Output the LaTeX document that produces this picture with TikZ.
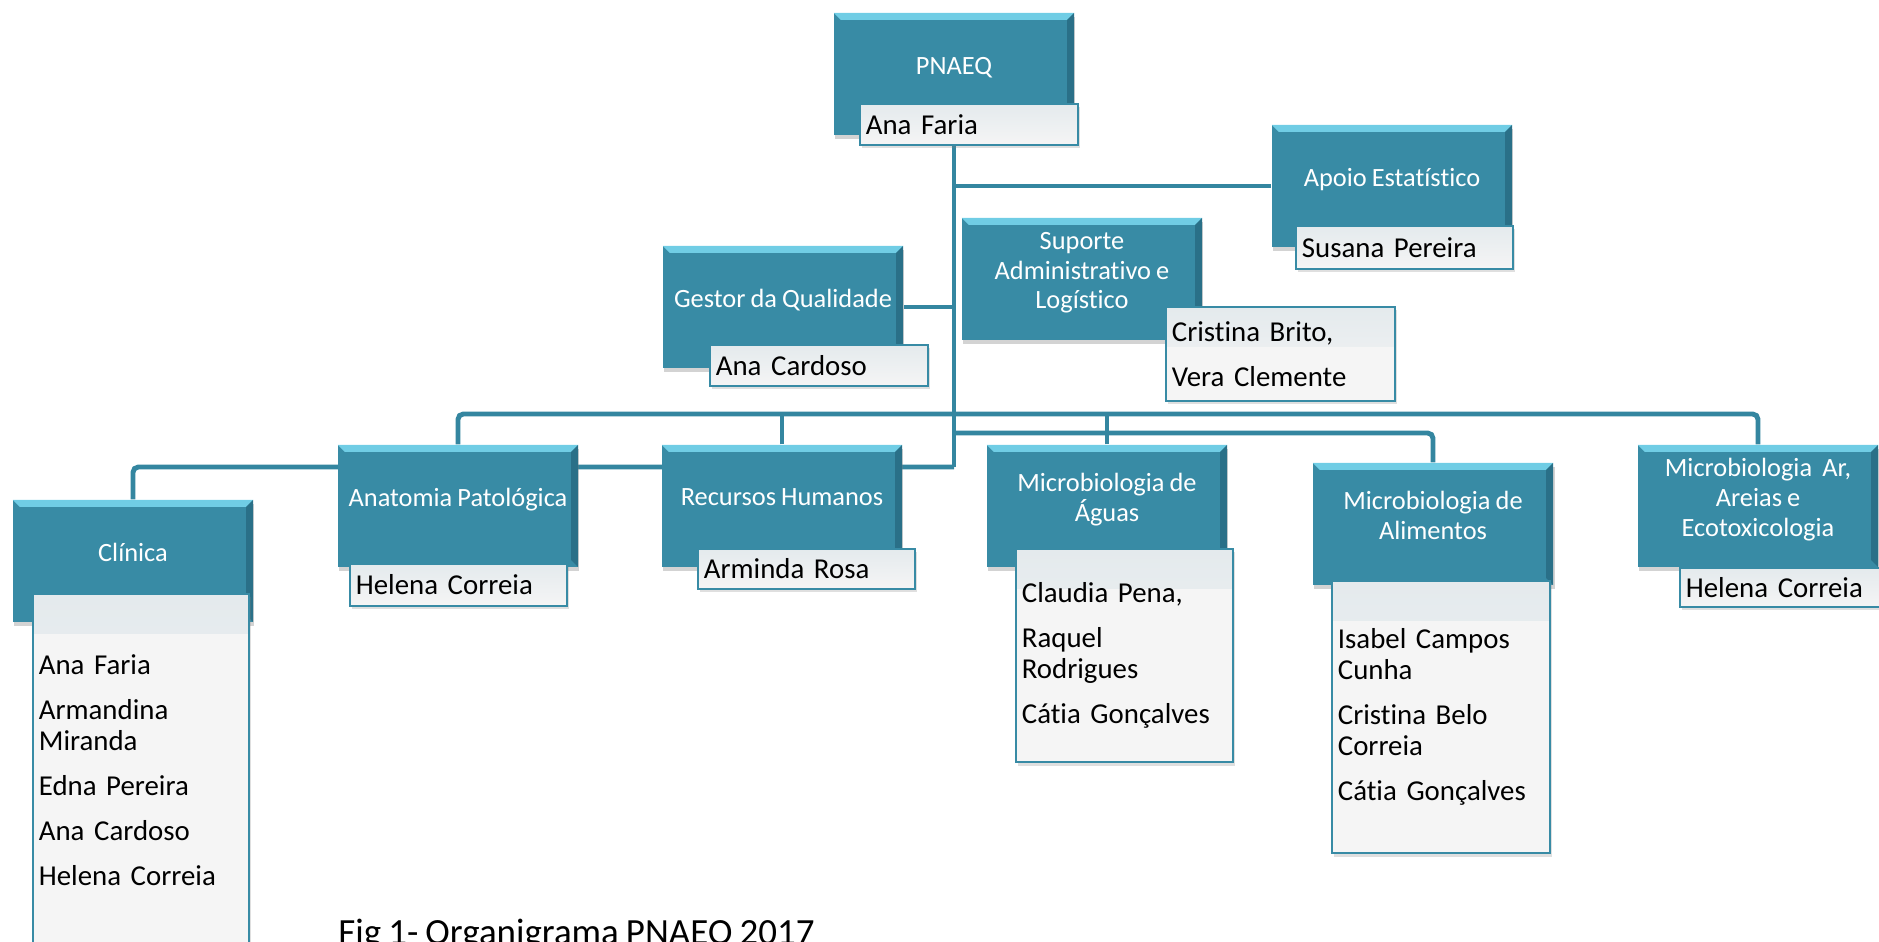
\documentclass[tikz,border=0pt]{standalone}
\usepackage{fontspec}
\setmainfont{Carlito}[Ligatures=NoCommon, WordSpace=0.85]
\usepackage{tikz}
\usetikzlibrary{shadows,backgrounds}

\definecolor{pnteal}{RGB}{56,139,165}
\definecolor{pntop}{RGB}{112,205,229}
\definecolor{pnside}{RGB}{42,112,136}
\definecolor{pnline}{RGB}{52,134,160}
\definecolor{staffband}{RGB}{228,234,237}
\definecolor{stafffill}{RGB}{245,245,245}

\begin{document}
\begin{tikzpicture}[x=0.01cm, y=-0.01cm,
  unit/.style={rectangle, fill=pnteal, text=white, minimum width=2.4cm, minimum height=1.22cm, inner sep=1pt, align=center,
    font=\fontsize{7.5}{8.5}\selectfont, drop shadow={shadow xshift=0.4pt, shadow yshift=-1.2pt, opacity=0.35},
    execute at end node={\rule[-0.17cm]{0pt}{0.17cm}},
    path picture={
      \fill[pntop] (path picture bounding box.north west) -- (path picture bounding box.north east) -- ([shift={(-0.07cm,-0.07cm)}]path picture bounding box.north east) -- ([shift={(0.07cm,-0.07cm)}]path picture bounding box.north west) -- cycle;
      \fill[pnside] (path picture bounding box.north east) -- (path picture bounding box.south east) -- ([shift={(-0.07cm,0.07cm)}]path picture bounding box.south east) -- ([shift={(-0.07cm,-0.07cm)}]path picture bounding box.north east) -- cycle;
    }},
  staff/.style={rectangle, anchor=north west, draw=pnteal, line width=0.5pt, fill=stafffill, align=left, inner xsep=0.06cm, inner ysep=0pt,
    font=\fontsize{8.2}{8.8}\selectfont, drop shadow={shadow xshift=0.5pt, shadow yshift=-1pt, opacity=0.25},
    path picture={\shade[top color=staffband, bottom color=stafffill] (path picture bounding box.north west) rectangle ([yshift=-0.4cm]path picture bounding box.north east);}},
  link/.style={draw=pnline, line width=1.4pt, rounded corners=1.5pt}]
\useasboundingbox (0,0) rectangle (1879,941);

\node[unit] (pnaeq) at (954,74) {PNAEQ};
\node[unit] (apoio) at (1392,186) {Apoio Estatístico};
\node[unit] (gestor) at (783,307) {Gestor da Qualidade};
\node[unit] (suporte) at (1082,279) {Suporte\\Administrativo e\\Logístico};
\node[unit] (clinica) at (133,561) {Clínica};
\node[unit] (anatomia) at (458,506) {Anatomia Patológica};
\node[unit] (recursos) at (782,506) {Recursos Humanos};
\node[unit] (aguas) at (1107,506) {Microbiologia de\\Águas};
\node[unit] (alimentos) at (1433,524) {Microbiologia de\\Alimentos};
\node[unit] (ar) at (1758,506) {Microbiologia\ \ Ar,\\Areias e\\Ecotoxicologia};

\node[staff, text width=2.06cm, minimum height=0.41cm] (pnaeq-n) at (859,103) {Ana Faria};
\node[staff, text width=2.05cm, minimum height=0.43cm] (apoio-n) at (1295,225) {Susana Pereira};
\node[staff, text width=2.06cm, minimum height=0.41cm] (gestor-n) at (709,344) {Ana Cardoso};
\node[staff, text width=2.17cm, minimum height=0.94cm] (suporte-n) at (1165,306) {Cristina Brito,\\[4pt]Vera Clemente};
\node[staff, text width=2.04cm, minimum height=3.52cm] (clinica-n) at (32,593) {Ana Faria\\[4pt]Armandina\\Miranda\\[4pt]Edna Pereira\\[4pt]Ana Cardoso\\[4pt]Helena Correia};
\node[staff, text width=2.05cm, minimum height=0.42cm] (anatomia-n) at (349,563) {Helena Correia};
\node[staff, text width=2.05cm, minimum height=0.40cm] (recursos-n) at (697,548) {Arminda Rosa};
\node[staff, text width=2.05cm, minimum height=2.13cm] (aguas-n) at (1015,548) {Claudia Pena,\\[4pt]Raquel\\Rodrigues\\[4pt]Cátia Gonçalves};
\node[staff, text width=2.06cm, minimum height=2.72cm] (alimentos-n) at (1331,580) {Isabel Campos\\Cunha\\[4pt]Cristina Belo\\Correia\\[4pt]Cátia Gonçalves};
\node[staff, text width=2.06cm, minimum height=0.39cm] (ar-n) at (1679,567) {Helena Correia};

\node[anchor=base west, font=\fontsize{10.5}{12}\selectfont] (caption) at (326,944) {Fig 1- Organigrama PNAEQ 2017};

\begin{scope}[on background layer]
\coordinate (hub) at (954,467);
\coordinate (bus) at (954,414);
\coordinate (bus2) at (954,433);
\draw[link] (pnaeq.south) -- (hub);
\draw[link] (pnaeq.south |- apoio.west) -- (apoio.west);
\draw[link] (gestor.east) -- (gestor.east -| hub);
\draw[link] (anatomia.north) |- (bus) -| (ar.north);
\draw[link] (recursos.north) -- (recursos.north |- bus);
\draw[link] (aguas.north) -- (aguas.north |- bus);
\draw[link] (bus2) -| (alimentos.north);
\draw[link] (hub) -| (clinica.north);
\end{scope}
\end{tikzpicture}
\end{document}
